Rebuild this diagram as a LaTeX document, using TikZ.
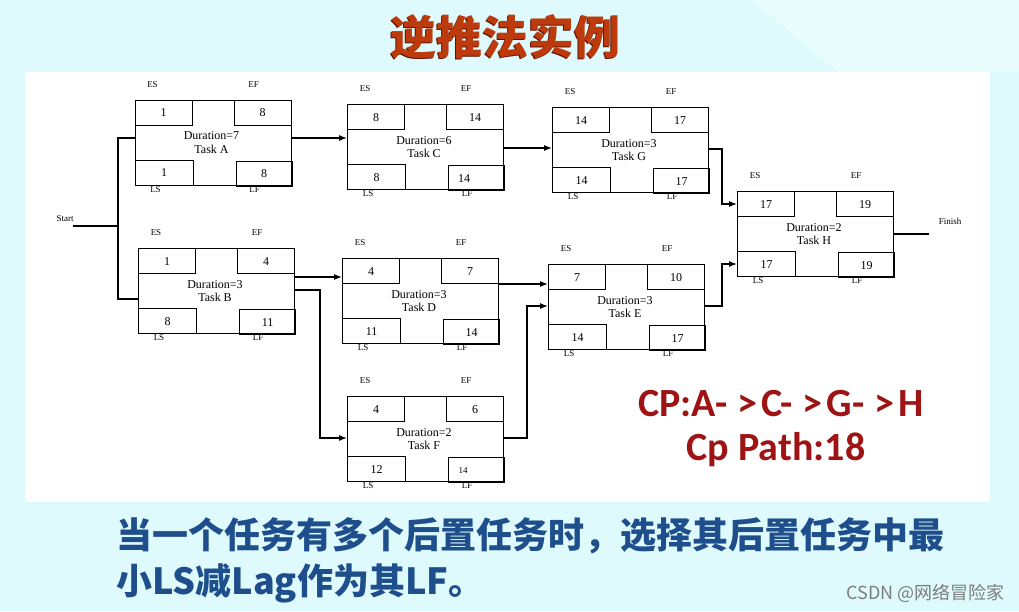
\documentclass[tikz,border=0pt]{standalone}
\usepackage{fontspec}
\setmainfont{Liberation Serif}
\newfontfamily\cjk{Noto Sans CJK SC}
\newfontfamily\carl{Carlito}
\usetikzlibrary{arrows.meta,calc}
\definecolor{bgc}{RGB}{222,250,252}
\definecolor{bgl}{RGB}{234,253,254}
\definecolor{titlec}{RGB}{188,58,12}
\definecolor{titles}{RGB}{95,20,4}
\definecolor{bluec}{RGB}{31,78,140}
\definecolor{cpc}{RGB}{158,20,20}
\definecolor{wmc}{RGB}{125,125,125}
\newcommand\tasknode[9]{%
  \node[outerbox] (#1) at (#2,#3) {};
  \node[sbox,anchor=north west] (#1es) at (#1.north west) {#4};
  \node[sbox,anchor=north east] (#1ef) at (#1.north east) {#5};
  \node[sbox,anchor=south west,minimum width=58pt] (#1ls) at (#1.south west) {#6};
  \node[sbox,anchor=south east,minimum width=56pt] (#1lf) at ($(#1.south east)+(1,1)$) {#7};
  \node[lab] (#1esl) at ($(#1.north west)+(18,-15)$) {ES};
  \node[lab] (#1efl) at ($(#1.north west)+(119,-15)$) {EF};
  \node[lab] (#1lsl) at ($(#1.north west)+(21,90)$) {LS};
  \node[lab] (#1lfl) at ($(#1.north west)+(120,90)$) {LF};
  \node[ctext] (#1txt) at ($(#1.north west)+(77,43)$) {Duration=#8\\Task #9};
}
\begin{document}
\begin{tikzpicture}[x=1pt,y=-1pt,
  outerbox/.style={draw,line width=1.3pt,minimum width=156pt,minimum height=85pt,inner sep=0pt,anchor=north west},
  sbox/.style={draw,line width=1.3pt,minimum width=57pt,minimum height=25pt,inner sep=0pt,font=\fontsize{12}{12}\selectfont},
  lab/.style={font=\fontsize{9}{9}\selectfont,inner sep=0pt},
  ctext/.style={align=center,font=\fontsize{12}{13.5}\selectfont,inner sep=0pt},
  conn/.style={line width=1.2pt},
  arr/.style={conn,-{Latex[length=8pt,width=6pt]}},
]
\useasboundingbox (0,0) rectangle (1019,611);
\fill[bgc] (0,0) rectangle (1019,611);
\fill[bgl] (752,0) -- (1019,0) -- (1019,72) -- (838,72) -- cycle;
\fill[white] (25,72) rectangle (990,502);

% title
\node[font=\cjk\bfseries\fontsize{46}{46}\selectfont,text=titles] (titlesh) at (504,38) {逆推法实例};
\node[font=\cjk\bfseries\fontsize{46}{46}\selectfont,text=titlec] (title) at (505,37) {逆推法实例};

% tasks
\tasknode{A}{134.5}{99.5}{1}{8}{1}{8}{7}{A}
\tasknode{B}{138}{248}{1}{4}{8}{11}{3}{B}
\tasknode{C}{347}{104}{8}{14}{8}{\makebox[0pt]{\kern-25pt 14}}{6}{C}
\tasknode{G}{552}{107}{14}{17}{14}{17}{3}{G}
\tasknode{H}{737}{191}{17}{19}{17}{19}{2}{H}
\tasknode{D}{342}{258}{4}{7}{11}{14}{3}{D}
\tasknode{E}{548}{264}{7}{10}{14}{17}{3}{E}
\tasknode{F}{347}{396}{4}{6}{12}{\makebox[0pt]{\fontsize{9}{9}\selectfont\kern-27pt 14}}{2}{F}

% start
\node[lab] (start) at (65,219) {Start};
\coordinate (st) at (73,226);
\coordinate (jS) at (118,226);
\coordinate (a0) at ($(A.north west)+(0,38.5)$);
\coordinate (b0) at ($(B.north west)+(0,51)$);
\draw[conn] (st) -- (jS);
\draw[conn] (a0) -- (a0 -| jS) -- (jS |- b0) -- (b0);

% A -> C
\coordinate (a1) at ($(A.north east)+(0,38.5)$);
\draw[arr] (a1) -- (a1 -| C.west);
% C -> G
\coordinate (c1) at ($(C.north east)+(0,44)$);
\draw[arr] (c1) -- (c1 -| G.west);
% G -> H
\coordinate (jH) at (722,200);
\coordinate (g1) at ($(G.north east)+(0,42)$);
\coordinate (h1) at ($(H.north west)+(0,13)$);
\draw[arr] (g1) -- (g1 -| jH) -- (jH |- h1) -- (h1);
% E -> H
\coordinate (e1) at ($(E.north east)+(0,42)$);
\coordinate (h2) at ($(H.north west)+(0,73)$);
\draw[arr] (e1) -- (e1 -| jH) -- (jH |- h2) -- (h2);
% H -> Finish
\coordinate (h3) at ($(H.north east)+(0,43)$);
\coordinate (fin) at (929,234);
\draw[conn] (h3) -- (h3 -| fin);
\node[lab] (finish) at (950,221) {Finish};
% B -> D
\coordinate (b1) at ($(B.north east)+(0,29)$);
\draw[arr] (b1) -- (b1 -| D.west);
% B -> F
\coordinate (jF) at (320,300);
\coordinate (b2) at ($(B.north east)+(0,42)$);
\coordinate (f0) at ($(F.north west)+(0,42)$);
\draw[arr] (b2) -- (b2 -| jF) -- (jF |- f0) -- (f0);
% D -> E
\coordinate (d1) at ($(D.north east)+(0,26)$);
\draw[arr] (d1) -- (d1 -| E.west);
% F -> E
\coordinate (jE) at (527,350);
\coordinate (f1) at ($(F.north east)+(0,42)$);
\coordinate (e0) at ($(E.north west)+(0,42)$);
\draw[arr] (f1) -- (f1 -| jE) -- (jE |- e0) -- (e0);

% critical path text
\node[font=\carl\bfseries\fontsize{40}{40}\selectfont,text=cpc,inner sep=0pt] (cp) at (781,404) {CP:A-\kern10pt>\kern4pt C-\kern10pt>\kern4pt G-\kern10pt>\kern4pt H};
\node[font=\carl\bfseries\fontsize{40}{40}\selectfont,text=cpc,inner sep=0pt,anchor=base] (cpp) at (776,460) {Cp Path:18};

% bottom text
\node[font=\cjk\bfseries\fontsize{36}{36}\selectfont,text=bluec,anchor=west,inner sep=0pt] (l1) at (116,536) {当一个任务有多个后置任务时，选择其后置任务中最};
\node[font=\cjk\bfseries\fontsize{36}{36}\selectfont,text=bluec,anchor=west,inner sep=0pt] (l2) at (116,583) {小LS减Lag作为其LF。};

% watermark
\node[font=\cjk\fontsize{18}{18}\selectfont,text=wmc,anchor=east,inner sep=0pt] (wm) at (1005,593) {CSDN @网络冒险家};
\end{tikzpicture}
\end{document}
